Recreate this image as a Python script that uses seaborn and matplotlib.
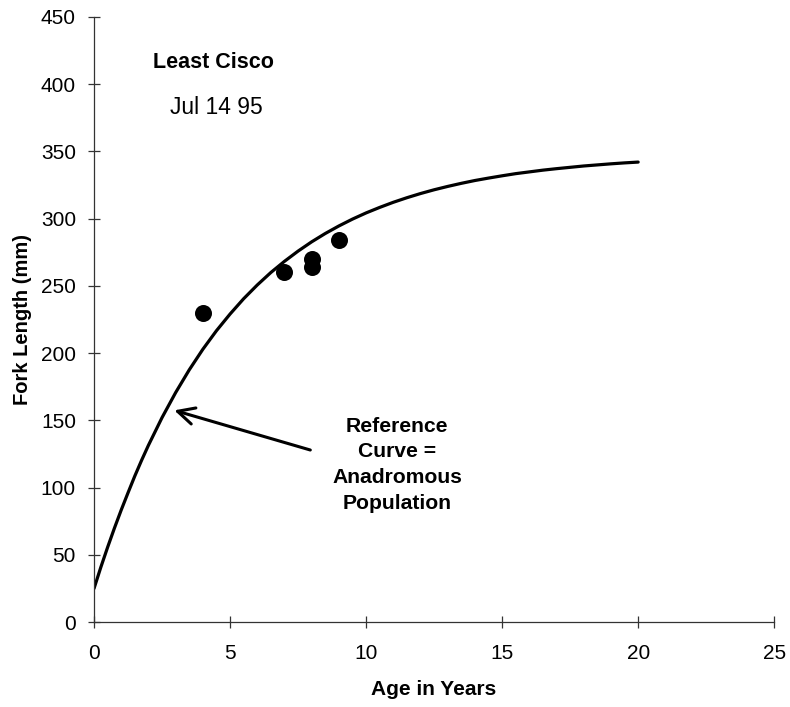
import numpy as np
import pandas as pd
import matplotlib
matplotlib.use("Agg")
import matplotlib.pyplot as plt
import seaborn as sns

# Reference growth curve (anadromous population), fork length in mm by age
curve_age = [0, 0.25, 0.5, 0.75, 1, 1.25, 1.5, 1.75, 2, 2.5, 3, 3.5, 4, 4.5,
             5, 5.5, 6, 6.5, 7, 7.5, 8, 8.5, 9, 9.5, 10, 10.5, 11, 11.5, 12,
             12.5, 13, 13.5, 14, 14.5, 15, 15.5, 16, 16.5, 17, 17.5, 18,
             18.5, 19, 19.5, 20]
curve_length = [25, 40.8, 55.7, 69.9, 83.4, 96.2, 108.7, 120.4, 131.5, 152.1,
                170.7, 187.6, 202.9, 216.7, 229.1, 240.5, 250.7, 260.0,
                268.3, 275.9, 282.8, 289.0, 294.6, 299.7, 304.3, 308.4,
                312.2, 315.6, 318.7, 321.5, 324.0, 326.3, 328.4, 330.2,
                331.9, 333.5, 334.8, 336.1, 337.2, 338.2, 339.2, 340.0,
                340.8, 341.5, 342.1]

# Least Cisco sample, Jul 14 95
fish_age = [4, 7, 8, 8, 9]
fish_length = [230, 260, 270, 264, 284]

x_ticks = [0, 5, 10, 15, 20, 25]
y_ticks = [0, 50, 100, 150, 200, 250, 300, 350, 400, 450]

sns.set_theme(style="white")
plt.rcParams["font.family"] = ["Liberation Sans", "DejaVu Sans"]
plt.rcParams["text.color"] = "black"
plt.rcParams["axes.labelcolor"] = "black"

curve_df = pd.DataFrame({"age": curve_age, "length": curve_length})
fish_df = pd.DataFrame({"age": fish_age, "length": fish_length})

fig = plt.figure(figsize=(7.9, 7.07), dpi=100)
ax = fig.add_axes([0.119, 0.120, 0.861, 0.856])

sns.lineplot(data=curve_df, x="age", y="length", ax=ax, color="black",
             linewidth=2.3, sort=True)
sns.scatterplot(data=fish_df, x="age", y="length", ax=ax, color="black",
                s=150, edgecolor="black", linewidth=0, zorder=3)

ax.set_xlim(0, 25)
ax.set_ylim(0, 450)
ax.set_xticks(x_ticks)
ax.set_yticks(y_ticks)
ax.tick_params(axis="both", which="major", bottom=True, left=True,
               direction="inout", length=8, width=0.9, color="#333333",
               labelsize=15, labelcolor="black")
ax.tick_params(axis="x", pad=12)
ax.tick_params(axis="y", pad=9)

for side in ("top", "right"):
    ax.spines[side].set_visible(False)
for side in ("left", "bottom"):
    ax.spines[side].set_color("#333333")
    ax.spines[side].set_linewidth(0.9)

ax.set_xlabel("Age in Years", fontsize=15, fontweight="bold", labelpad=12)
ax.set_ylabel("Fork Length (mm)", fontsize=14.5, fontweight="bold", labelpad=6)

ax.text(4.4, 416, "Least Cisco", fontsize=15.5, fontweight="bold",
        ha="center", va="center")
ax.text(4.5, 383, "Jul 14 95", fontsize=16.5, ha="center", va="center")

ax.annotate("", xy=(2.95, 157.5), xytext=(7.95, 128),
            arrowprops=dict(arrowstyle="->", color="black", lw=2.2,
                            mutation_scale=30, shrinkA=0, shrinkB=0))
ax.text(11.15, 117, "Reference\nCurve =\nAnadromous\nPopulation",
        fontsize=15.2, fontweight="bold", ha="center", va="center",
        linespacing=1.45)

fig.savefig("out.png", dpi=100)
